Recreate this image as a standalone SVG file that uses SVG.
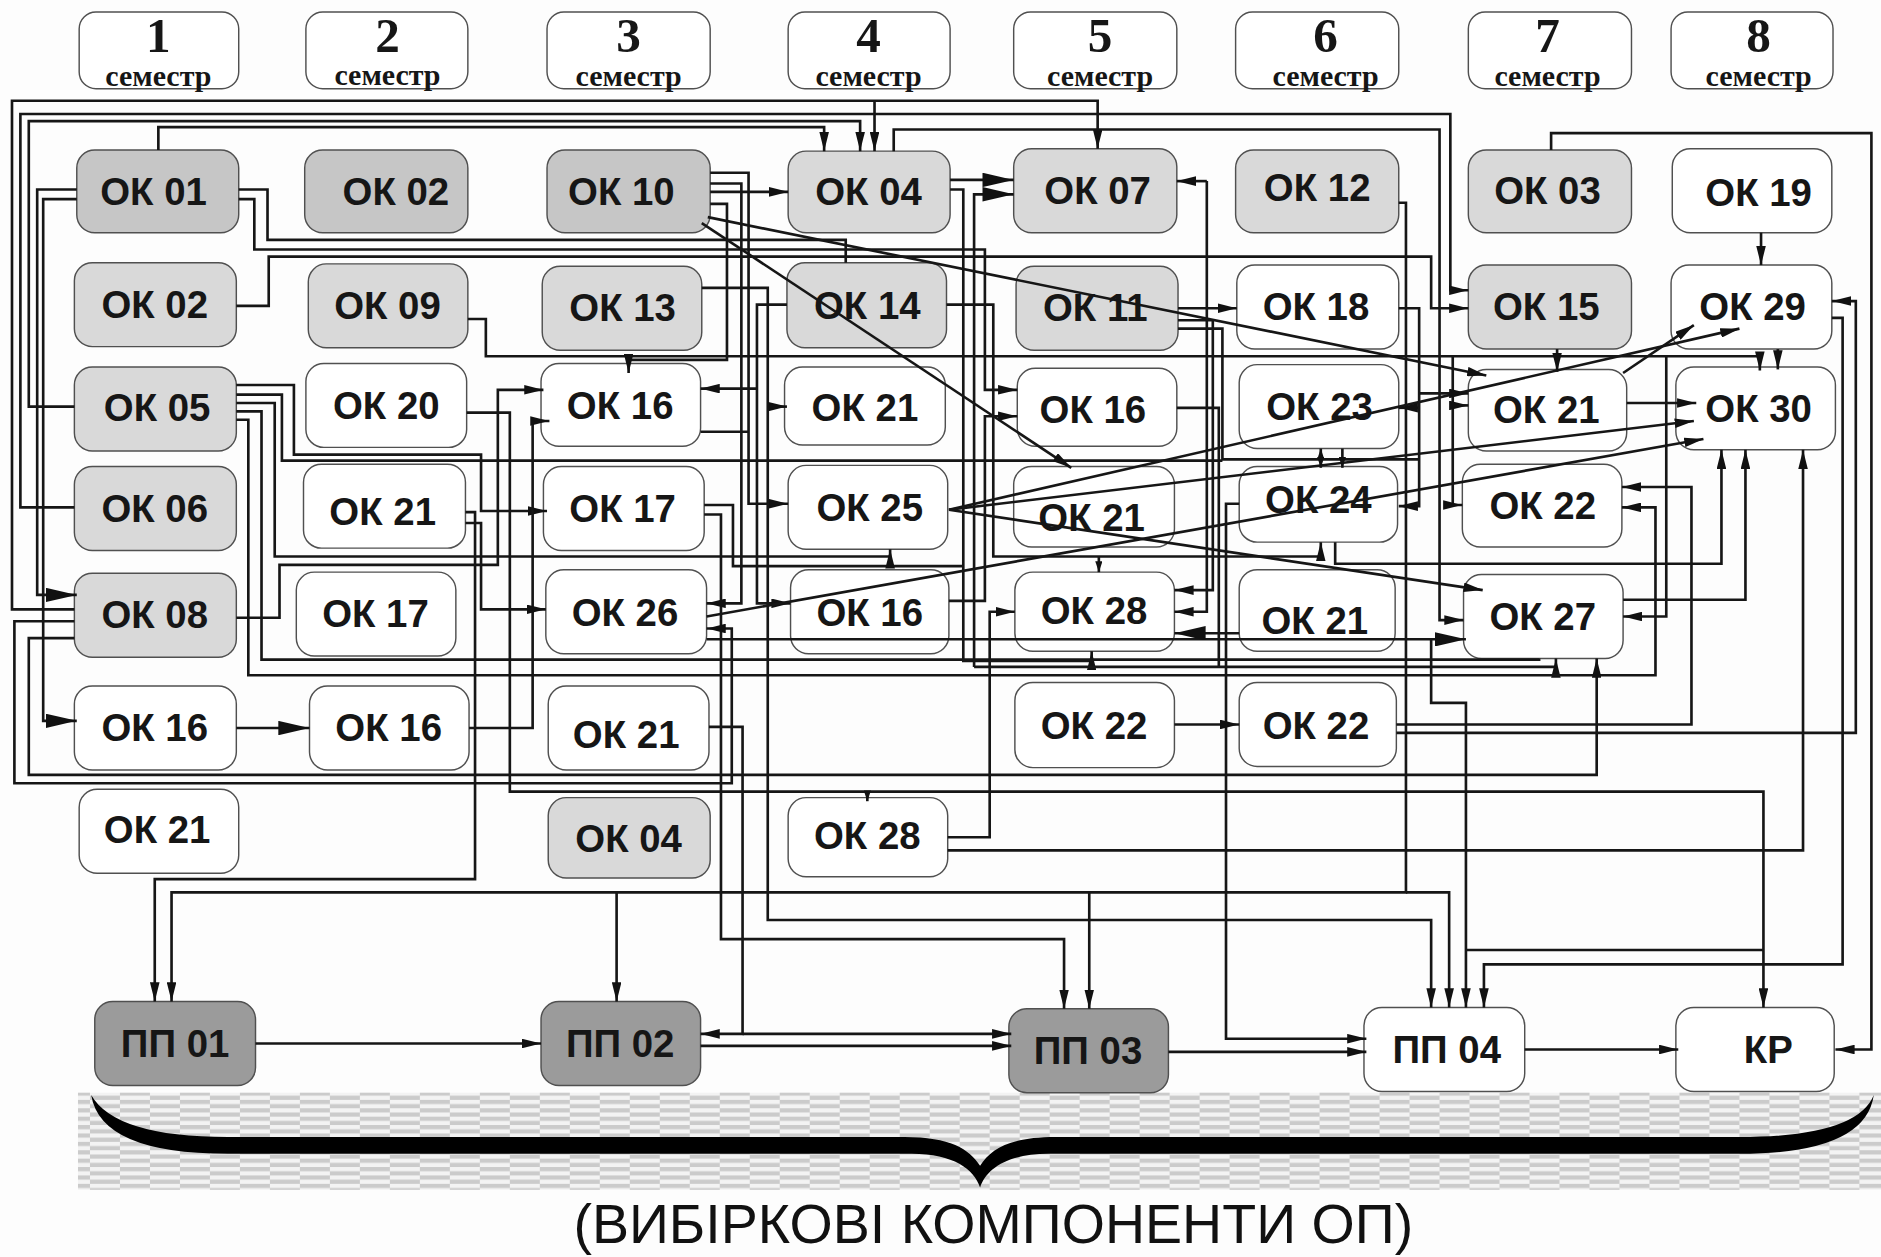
<svg xmlns="http://www.w3.org/2000/svg" width="1881" height="1257" viewBox="0 0 1881 1257">
<defs>
<style>
.n{stroke:#505050;stroke-width:1.2}
.dk{fill:#c6c6c6}.lt{fill:#d9d9d9}.wh{fill:#ffffff}.pp{fill:#9b9b9b}
.t{font-family:"Liberation Sans",Arial,sans-serif;font-weight:bold;font-size:32px;text-anchor:middle;fill:#161616}
.hd{font-family:"Liberation Serif","Times New Roman",serif;font-weight:bold;text-anchor:middle;fill:#161616}
.dg{font-size:41px}.sm{font-size:25px}
.c path{fill:none;stroke:#161616;stroke-width:2.2}
.c path.a{marker-end:url(#a)}.c path.b{marker-end:url(#b)}.c path.s{marker-end:url(#s)}
</style>
<marker id="a" viewBox="0 0 16 8" refX="16" refY="4" markerWidth="16" markerHeight="8" markerUnits="userSpaceOnUse" orient="auto"><path d="M0,0L16,4L0,8z" fill="#111"/></marker>
<marker id="b" viewBox="0 0 26 12" refX="26" refY="6" markerWidth="26" markerHeight="12" markerUnits="userSpaceOnUse" orient="auto"><path d="M0,0L26,6L0,12z" fill="#111"/></marker>
<marker id="s" viewBox="0 0 9 6" refX="9" refY="3" markerWidth="9" markerHeight="6" markerUnits="userSpaceOnUse" orient="auto"><path d="M0,0L9,3L0,6z" fill="#111"/></marker>
<pattern id="h" width="50" height="7" patternUnits="userSpaceOnUse"><rect width="50" height="7" fill="#f3f3f3"/><rect width="25" height="3.5" fill="#cbcbcb"/><rect x="25" y="3.5" width="25" height="3.5" fill="#cbcbcb"/></pattern>
</defs>
<rect width="1881" height="1257" fill="#fdfdfd"/>
<g transform="scale(1.19962 1.19943)">
<rect x="65" y="911" width="1503" height="81" fill="url(#h)"/>
<path d="M76,913 Q84,962 190,962 L760,962 C795,962 812,975 817,990 C822,975 839,962 874,962 L1450,962 Q1555,962 1562,913 Q1548,948 1450,948 L880,948 C842,948 826,958 817,972 C808,958 792,948 754,948 L190,948 Q96,948 76,913 Z" fill="#000"/>
<text x="828" y="1036" font-family="Liberation Sans, Arial, sans-serif" font-size="46" text-anchor="middle" fill="#111" textLength="700" lengthAdjust="spacingAndGlyphs">(ВИБІРКОВІ КОМПОНЕНТИ ОП)</text>

<g id="h1"><rect class="n wh" x="66" y="10" width="133" height="64" rx="14"/><text class="hd dg" x="132" y="43">1</text><text class="hd sm" x="132" y="72">семестр</text></g>
<g id="h2"><rect class="n wh" x="255" y="10" width="135" height="64" rx="14"/><text class="hd dg" x="323" y="43">2</text><text class="hd sm" x="323" y="71">семестр</text></g>
<g id="h3"><rect class="n wh" x="456" y="10" width="136" height="64" rx="14"/><text class="hd dg" x="524" y="43">3</text><text class="hd sm" x="524" y="72">семестр</text></g>
<g id="h4"><rect class="n wh" x="657" y="10" width="135" height="64" rx="14"/><text class="hd dg" x="724" y="43">4</text><text class="hd sm" x="724" y="72">семестр</text></g>
<g id="h5"><rect class="n wh" x="845" y="10" width="136" height="64" rx="14"/><text class="hd dg" x="917" y="43">5</text><text class="hd sm" x="917" y="72">семестр</text></g>
<g id="h6"><rect class="n wh" x="1030" y="10" width="136" height="64" rx="14"/><text class="hd dg" x="1105" y="43">6</text><text class="hd sm" x="1105" y="72">семестр</text></g>
<g id="h7"><rect class="n wh" x="1224" y="10" width="136" height="64" rx="14"/><text class="hd dg" x="1290" y="43">7</text><text class="hd sm" x="1290" y="72">семестр</text></g>
<g id="h8"><rect class="n wh" x="1393" y="10" width="135" height="64" rx="14"/><text class="hd dg" x="1466" y="43">8</text><text class="hd sm" x="1466" y="72">семестр</text></g>

<g id="ok01"><rect class="n dk" x="64" y="125" width="135" height="69" rx="15"/><text class="t" x="128" y="171">ОК 01</text></g>
<g id="ok02b"><rect class="n dk" x="254" y="125" width="136" height="69" rx="15"/><text class="t" x="330" y="171">ОК 02</text></g>
<g id="ok10"><rect class="n dk" x="456" y="125" width="136" height="69" rx="15"/><text class="t" x="518" y="171">ОК 10</text></g>
<g id="ok04"><rect class="n lt" x="657" y="126" width="135" height="68" rx="15"/><text class="t" x="724" y="171">ОК 04</text></g>
<g id="ok07"><rect class="n lt" x="845" y="124" width="136" height="70" rx="15"/><text class="t" x="915" y="170">ОК 07</text></g>
<g id="ok12"><rect class="n lt" x="1030" y="125" width="136" height="69" rx="15"/><text class="t" x="1098" y="168">ОК 12</text></g>
<g id="ok03"><rect class="n lt" x="1224" y="125" width="136" height="69" rx="15"/><text class="t" x="1290" y="170">ОК 03</text></g>
<g id="ok19"><rect class="n wh" x="1394" y="124" width="133" height="70" rx="15"/><text class="t" x="1466" y="172">ОК 19</text></g>

<g id="ok02"><rect class="n lt" x="62" y="219" width="135" height="70" rx="15"/><text class="t" x="129" y="265">ОК 02</text></g>
<g id="ok09"><rect class="n lt" x="257" y="220" width="133" height="70" rx="15"/><text class="t" x="323" y="266">ОК 09</text></g>
<g id="ok13"><rect class="n lt" x="452" y="222" width="133" height="70" rx="15"/><text class="t" x="519" y="268">ОК 13</text></g>
<g id="ok14"><rect class="n lt" x="656" y="219" width="133" height="71" rx="15"/><text class="t" x="723" y="266">ОК 14</text></g>
<g id="ok11"><rect class="n lt" x="847" y="222" width="135" height="70" rx="15"/><text class="t" x="913" y="268">ОК 11</text></g>
<g id="ok18"><rect class="n wh" x="1031" y="221" width="135" height="70" rx="15"/><text class="t" x="1097" y="267">ОК 18</text></g>
<g id="ok15"><rect class="n lt" x="1224" y="221" width="136" height="70" rx="15"/><text class="t" x="1289" y="267">ОК 15</text></g>
<g id="ok29"><rect class="n wh" x="1393" y="221" width="134" height="70" rx="15"/><text class="t" x="1461" y="267">ОК 29</text></g>

<g id="ok05"><rect class="n lt" x="62" y="306" width="135" height="70" rx="15"/><text class="t" x="131" y="351">ОК 05</text></g>
<g id="ok20"><rect class="n wh" x="255" y="303" width="134" height="70" rx="15"/><text class="t" x="322" y="349">ОК 20</text></g>
<g id="ok16c3"><rect class="n wh" x="451" y="303" width="133" height="69" rx="15"/><text class="t" x="517" y="349">ОК 16</text></g>
<g id="ok21c4"><rect class="n wh" x="654" y="306" width="134" height="65" rx="15"/><text class="t" x="721" y="351">ОК 21</text></g>
<g id="ok16c5"><rect class="n wh" x="848" y="307" width="133" height="65" rx="15"/><text class="t" x="911" y="353">ОК 16</text></g>
<g id="ok23"><rect class="n wh" x="1033" y="304" width="133" height="70" rx="15"/><text class="t" x="1100" y="350">ОК 23</text></g>
<g id="ok21c7"><rect class="n wh" x="1224" y="308" width="132" height="68" rx="15"/><text class="t" x="1289" y="353">ОК 21</text></g>
<g id="ok30"><rect class="n wh" x="1397" y="306" width="133" height="69" rx="15"/><text class="t" x="1466" y="352">ОК 30</text></g>

<g id="ok06"><rect class="n lt" x="62" y="389" width="135" height="70" rx="15"/><text class="t" x="129" y="435">ОК 06</text></g>
<g id="ok21c2"><rect class="n wh" x="253" y="387" width="135" height="70" rx="15"/><text class="t" x="319" y="438">ОК 21</text></g>
<g id="ok17c3"><rect class="n wh" x="453" y="389" width="134" height="70" rx="15"/><text class="t" x="519" y="435">ОК 17</text></g>
<g id="ok25"><rect class="n wh" x="657" y="388" width="133" height="70" rx="15"/><text class="t" x="725" y="434">ОК 25</text></g>
<g id="ok21c5"><rect class="n wh" x="845" y="389" width="134" height="67" rx="15"/><text class="t" x="910" y="443">ОК 21</text></g>
<g id="ok24"><rect class="n wh" x="1033" y="389" width="132" height="63" rx="15"/><text class="t" x="1099" y="428">ОК 24</text></g>
<g id="ok22c7"><rect class="n wh" x="1219" y="387" width="133" height="69" rx="15"/><text class="t" x="1286" y="433">ОК 22</text></g>

<g id="ok08"><rect class="n lt" x="62" y="478" width="135" height="70" rx="15"/><text class="t" x="129" y="524">ОК 08</text></g>
<g id="ok17c2"><rect class="n wh" x="247" y="477" width="133" height="70" rx="15"/><text class="t" x="313" y="523">ОК 17</text></g>
<g id="ok26"><rect class="n wh" x="455" y="475" width="134" height="70" rx="15"/><text class="t" x="521" y="522">ОК 26</text></g>
<g id="ok16c4"><rect class="n wh" x="659" y="475" width="132" height="70" rx="15"/><text class="t" x="725" y="522">ОК 16</text></g>
<g id="ok28c5"><rect class="n wh" x="846" y="477" width="133" height="66" rx="15"/><text class="t" x="912" y="520">ОК 28</text></g>
<g id="ok21c6"><rect class="n wh" x="1033" y="475" width="130" height="68" rx="15"/><text class="t" x="1096" y="529">ОК 21</text></g>
<g id="ok27"><rect class="n wh" x="1220" y="479" width="133" height="70" rx="15"/><text class="t" x="1286" y="525">ОК 27</text></g>

<g id="ok16c1"><rect class="n wh" x="62" y="572" width="135" height="70" rx="15"/><text class="t" x="129" y="618">ОК 16</text></g>
<g id="ok16c2"><rect class="n wh" x="258" y="572" width="133" height="70" rx="15"/><text class="t" x="324" y="618">ОК 16</text></g>
<g id="ok21c3"><rect class="n wh" x="457" y="572" width="134" height="70" rx="15"/><text class="t" x="522" y="624">ОК 21</text></g>
<g id="ok22c5"><rect class="n wh" x="846" y="569" width="133" height="71" rx="15"/><text class="t" x="912" y="616">ОК 22</text></g>
<g id="ok22c6"><rect class="n wh" x="1033" y="569" width="131" height="70" rx="15"/><text class="t" x="1097" y="616">ОК 22</text></g>

<g id="ok21c1"><rect class="n wh" x="66" y="658" width="133" height="70" rx="15"/><text class="t" x="131" y="703">ОК 21</text></g>
<g id="ok04c3"><rect class="n lt" x="457" y="665" width="135" height="67" rx="15"/><text class="t" x="524" y="710">ОК 04</text></g>
<g id="ok28c4"><rect class="n wh" x="657" y="665" width="133" height="66" rx="15"/><text class="t" x="723" y="708">ОК 28</text></g>

<g id="pp01"><rect class="n pp" x="79" y="835" width="134" height="70" rx="15"/><text class="t" x="146" y="881" font-size="31">ПП 01</text></g>
<g id="pp02"><rect class="n pp" x="451" y="835" width="133" height="70" rx="15"/><text class="t" x="517" y="881" font-size="31">ПП 02</text></g>
<g id="pp03"><rect class="n pp" x="841" y="841" width="133" height="70" rx="15"/><text class="t" x="907" y="887" font-size="31">ПП 03</text></g>
<g id="pp04"><rect class="n wh" x="1137" y="840" width="134" height="70" rx="15"/><text class="t" x="1206" y="886" font-size="31">ПП 04</text></g>
<g id="kr"><rect class="n wh" x="1397" y="840" width="132" height="70" rx="15"/><text class="t" x="1474" y="886" font-size="31">КР</text></g>

<g id="connectors" class="c">
<path class="a" d="M62,508H10V84H915V124"/>
<path class="a" d="M729,84V126"/>
<path class="a" d="M62,423H17V95H1209V242H1224"/>
<path class="a" d="M62,339H24V101H717V126"/>
<path class="a" d="M132,125V106H687V126"/>
<path class="a" d="M745,126V108H1200V517H1220"/>
<path class="a" d="M1293,125V111H1560V875H1530"/>
<path class="a" d="M1468,194V221"/>
<path class="b" d="M64,158H31V496H64"/>
<path class="b" d="M64,166H36V601H64"/>
<path d="M199,158H223V200H705V219"/>
<path class="a" d="M199,166H212V208H821V325H848"/>
<path class="a" d="M197,255H224V214H1193V257H1224"/>
<path class="a" d="M390,266H405V297H1467V309"/>
<path class="a" d="M1389,297V514H1353"/>
<path class="a" d="M1211,297V421H1219"/>
<path class="a" d="M1211,338H1224"/>
<path class="a" d="M1482,291V308"/>
<path class="a" d="M592,160H657"/>
<path class="b" d="M792,150H845"/>
<path class="a" d="M792,158H803V551H910V543"/>
<path class="b" d="M812,556V162H845"/>
<path class="a" d="M812,556H1297V549"/>
<path class="a" d="M789,254H828V464H1101V452"/>
<path class="s" d="M916,464V477"/>
<path class="a" d="M1113,452V470H1435V375"/>
<path class="a" d="M1353,500H1455V375"/>
<path class="a" d="M790,709H1503V375"/>
<path class="a" d="M389,344H425V660H1470V840"/>
<path class="s" d="M723,660V668"/>
<path d="M1222,792H1470"/>
<path class="b" d="M589,533H1222"/>
<path class="a" d="M1193,533V586H1222V840"/>
<path class="a" d="M585,240H640V767H1193V840"/>
<path class="a" d="M640,339H656"/>
<path class="a" d="M1166,169H1172V744H143V835"/>
<path class="a" d="M514,744V835"/>
<path class="a" d="M908,744V841"/>
<path class="a" d="M1172,744H1208V840"/>
<path class="a" d="M587,429H601V783H887V841"/>
<path d="M587,421H611V472H803"/>
<path class="a" d="M197,336H229V464H742V458"/>
<path class="a" d="M197,321H245V379H401V426H456"/>
<path d="M197,329H235V384H1019"/>
<path d="M197,343H218V550H1283V549"/>
<path class="a" d="M197,350H207V563H1380V423H1352"/>
<path class="a" d="M197,515H233V471H415V325H453"/>
<path class="a" d="M62,518H12V653H610V524H589"/>
<path class="a" d="M62,532H24V646H1331V549"/>
<path class="b" d="M197,607H258"/>
<path class="a" d="M391,607H444V351H458"/>
<path class="a" d="M388,427H396V733H129V835"/>
<path class="a" d="M388,436H401V508H455"/>
<path class="a" d="M592,144H624V420H657"/>
<path d="M584,360H624"/>
<path class="a" d="M592,153H618V503H589"/>
<path class="a" d="M592,170H606V300H524V311"/>
<path class="a" d="M656,254H631V503H659"/>
<path class="a" d="M631,324H584"/>
<path class="a" d="M585,186L893,390"/>
<path class="a" d="M590,181L1239,313"/>
<path class="a" d="M791,425L1450,274"/>
<path class="a" d="M791,425L1412,351"/>
<path class="a" d="M791,425L1236,492"/>
<path class="a" d="M589,514L1420,366"/>
<path class="a" d="M591,606H619V862H584"/>
<path class="a" d="M619,862H843"/>
<path class="a" d="M584,872H843"/>
<path class="a" d="M213,870H451"/>
<path class="a" d="M974,877H1139"/>
<path class="a" d="M1033,420H1022V866H1139"/>
<path class="a" d="M1271,875H1399"/>
<path class="a" d="M1527,265H1536V804H1237V840"/>
<path class="a" d="M1164,611H1547V251H1527"/>
<path class="a" d="M1164,604H1410V406H1352"/>
<path class="a" d="M979,604H1033"/>
<path class="a" d="M790,698H825V510H846"/>
<path class="a" d="M791,501H821V347H848"/>
<path class="a" d="M982,257H1031"/>
<path class="a" d="M982,267H1011V492H979"/>
<path d="M982,274H1019V383H1183"/>
<path class="s" d="M1101,383V374"/>
<path class="s" d="M1101,383V390"/>
<path class="s" d="M1119,374V390"/>
<path class="a" d="M1006,151H981"/>
<path class="a" d="M1006,151V510H979"/>
<path class="a" d="M1166,257H1183V422H1166"/>
<path class="a" d="M1183,340H1166"/>
<path class="a" d="M1183,328H1224"/>
<path class="a" d="M1298,291V310"/>
<path class="a" d="M1356,336H1414"/>
<path class="a" d="M1353,311L1412,271"/>
<path class="b" d="M1033,528H979"/>
<path d="M981,340H1016V556"/>
</g>
</g>
</svg>
